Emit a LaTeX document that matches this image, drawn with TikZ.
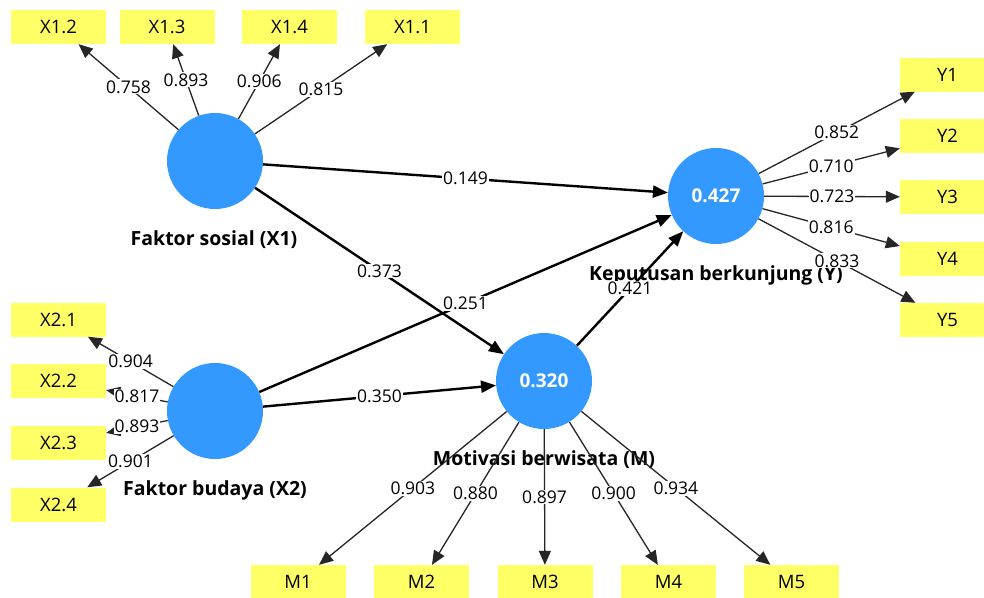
\documentclass[tikz,border=0pt]{standalone}
\usepackage{fontspec}
\setmainfont{Open Sans}
\usetikzlibrary{arrows.meta}
\definecolor{plsblue}{RGB}{51,153,255}
\definecolor{plsyellow}{RGB}{255,255,102}
\begin{document}
\begin{tikzpicture}[x=1pt,y=-1pt,
  construct/.style={circle,fill=plsblue,minimum size=96pt,inner sep=0pt,text=white,font=\fontsize{19}{21}\selectfont\bfseries},
  indicator/.style={fill=plsyellow,minimum width=95pt,minimum height=34pt,inner sep=0pt,font=\fontsize{18.5}{21}\selectfont},
  cname/.style={font=\fontsize{19.5}{22}\selectfont\bfseries},
  strpath/.style={line width=2.4pt,-{Triangle[length=15pt,width=12pt]}},
  loading/.style={line width=1.3pt,draw=black!85,-{Triangle[length=14pt,width=12pt]}},
  coef/.style={fill=white,inner sep=1pt,font=\fontsize{17.5}{20}\selectfont}
]
\clip (0,0) rectangle (984,597);
\fill[white] (0,0) rectangle (984,597);

% constructs
\node[construct] (X1) at (215,161) {};
\node[construct] (X2) at (215,411) {};
\node[construct] (M) at (544,381) {0.320};
\node[construct] (Y) at (716,196) {0.427};

\node[cname] (nX1) at (214,240) {Faktor sosial (X1)};
\node[cname] (nX2) at (215,490) {Faktor budaya (X2)};
\node[cname] (nM) at (544,460) {Motivasi berwisata (M)};
\node[cname] (nY) at (716,275) {Keputusan berkunjung (Y)};

% indicators
\node[indicator] (x12) at (58.5,27) {X1.2};
\node[indicator] (x13) at (167,27) {X1.3};
\node[indicator] (x14) at (289.5,27) {X1.4};
\node[indicator] (x11) at (412.5,27) {X1.1};

\node[indicator] (x21) at (58.5,319.5) {X2.1};
\node[indicator] (x22) at (58.5,381) {X2.2};
\node[indicator] (x23) at (58.5,442.5) {X2.3};
\node[indicator] (x24) at (58.5,504.5) {X2.4};

\node[indicator] (m1) at (298,582) {M1};
\node[indicator] (m2) at (421.5,582) {M2};
\node[indicator] (m3) at (545,582) {M3};
\node[indicator] (m4) at (668.5,582) {M4};
\node[indicator] (m5) at (791.5,582) {M5};

\node[indicator] (y1) at (947.5,74.5) {Y1};
\node[indicator] (y2) at (947.5,136) {Y2};
\node[indicator] (y3) at (947.5,197) {Y3};
\node[indicator] (y4) at (947.5,259) {Y4};
\node[indicator] (y5) at (947.5,320) {Y5};

% loadings
\draw[loading] (X1) -- node[coef] {0.758} (x12);
\draw[loading] (X1) -- node[coef] {0.893} (x13);
\draw[loading] (X1) -- node[coef] {0.906} (x14);
\draw[loading] (X1) -- node[coef] {0.815} (x11);

\draw[loading] (X2) -- node[coef] {0.904} (x21);
\draw[loading] (X2) -- node[coef] {0.817} (x22);
\draw[loading] (X2) -- node[coef] {0.893} (x23);
\draw[loading] (X2) -- node[coef] {0.901} (x24);

\draw[loading] (M) -- node[coef] {0.903} (m1);
\draw[loading] (M) -- node[coef] {0.880} (m2);
\draw[loading] (M) -- node[coef] {0.897} (m3);
\draw[loading] (M) -- node[coef] {0.900} (m4);
\draw[loading] (M) -- node[coef] {0.934} (m5);

\draw[loading] (Y) -- node[coef] {0.852} (y1);
\draw[loading] (Y) -- node[coef] {0.710} (y2);
\draw[loading] (Y) -- node[coef] {0.723} (y3);
\draw[loading] (Y) -- node[coef] {0.816} (y4);
\draw[loading] (Y) -- node[coef] {0.833} (y5);

% structural paths
\draw[strpath] (X1) -- node[coef] {0.149} (Y);
\draw[strpath] (X1) -- node[coef] {0.373} (M);
\draw[strpath] (X2) -- node[coef] {0.251} (Y);
\draw[strpath] (X2) -- node[coef] {0.350} (M);
\draw[strpath] (M) -- node[coef] {0.421} (Y);
\end{tikzpicture}
\end{document}
